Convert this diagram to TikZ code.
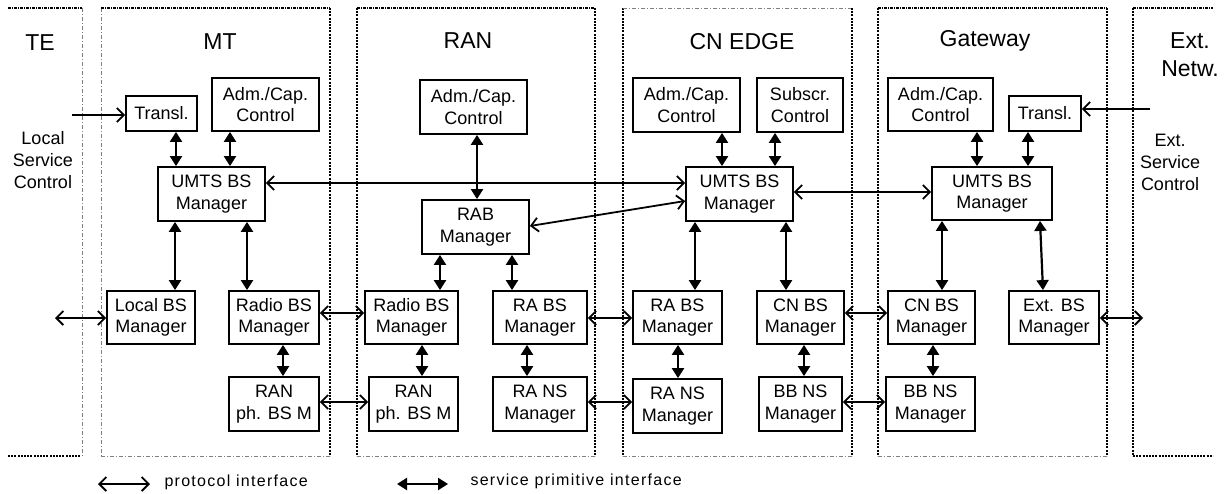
\documentclass[tikz,border=0pt]{standalone}
\usepackage{fontspec}
\setmainfont{Liberation Sans}
\newfontfamily\lgdfont[LetterSpace=8]{Liberation Sans}
\usetikzlibrary{arrows.meta}
\tikzset{
  box/.style={draw, line width=1.8pt, inner sep=0pt, align=center,
    font=\fontsize{18}{21.5}\selectfont},
  title/.style={font=\fontsize{23}{28}\selectfont, align=center},
  side/.style={font=\fontsize{18}{22}\selectfont, align=center},
  lgd/.style={font=\lgdfont\fontsize{16}{19}\selectfont, anchor=west},
  sp/.style={line width=2.2pt, {Triangle[length=10pt,width=12pt]}-{Triangle[length=10pt,width=12pt]}},
  pr/.style={line width=1.8pt, {Straight Barb[length=7pt,width=14pt]}-{Straight Barb[length=7pt,width=14pt]}},
  prone/.style={line width=1.8pt, -{Straight Barb[length=7pt,width=14pt]}},
  thinedge/.style={gray, line width=0.7pt, dash pattern=on 4pt off 2pt on 1pt off 2pt},
  medge/.style={black, line width=1.2pt, dash pattern=on 3pt off 1pt on 1pt off 1pt},
  thickedge/.style={black, line width=2.6pt, dash pattern=on 2pt off 1.2pt},
}
\begin{document}
\begin{tikzpicture}[x=1pt,y=-1pt]
\useasboundingbox (0,0) rectangle (1226,493);
% domain frames
% TE
\draw[medge] (8,8) -- (82,8);
\draw[thinedge] (82,8) -- (82,456);
\draw[thickedge] (8,456) -- (80,456);
% MT
\draw[thinedge] (101,8) -- (101,456);
\draw[medge] (101,8) -- (330,8);
\draw[thickedge] (330,8) -- (330,456);
\draw[thinedge] (101,456) -- (330,456);
% RAN
\draw[thickedge] (357,8) -- (357,456);
\draw[medge] (357,8) -- (595,8);
\draw[thickedge] (595,8) -- (595,456);
\draw[thinedge] (357,456) -- (595,456);
% CN EDGE
\draw[thickedge] (623,8) -- (623,456);
\draw[thinedge] (623,8) -- (852,8);
\draw[thickedge] (852,8) -- (852,456);
\draw[thinedge] (623,456) -- (852,456);
% Gateway
\draw[thickedge] (878,8) -- (878,456);
\draw[medge] (878,8) -- (1107,8);
\draw[thickedge] (1107,8) -- (1107,456);
\draw[thinedge] (878,456) -- (1107,456);
% Ext
\draw[thickedge] (1133,8) -- (1133,456);
\draw[medge] (1133,8) -- (1213,8);
\draw[thickedge] (1133,456) -- (1213,456);

% titles
\node[title] (tTE) at (40,43) {TE};
\node[title] (tMT) at (220,42) {MT};
\node[title] (tRAN) at (468,41) {RAN};
\node[title] (tCN) at (742,42) {CN EDGE};
\node[title] (tGW) at (985,41) {Gateway};
\node[title] (tEXT) at (1190,55) {Ext.\\Netw.};
\node[side] (lsctext) at (43,160) {Local\\Service\\Control};
\node[side] (esctext) at (1170,162) {Ext.\\Service\\Control};

% MT boxes
\node[box, minimum width=71pt, minimum height=35pt] (tr1) at (161.5,113.5) {Transl.};
\node[box, minimum width=107pt, minimum height=53pt] (adm1) at (265.5,104.5) {Adm./Cap.\\Control};
\node[box, minimum width=107pt, minimum height=54pt] (umts1) at (211.5,194) {UMTS BS\\Manager};
\node[box, minimum width=88pt, minimum height=53pt] (lbs) at (151,317.5) {Local BS\\Manager};
\node[box, minimum width=90pt, minimum height=53pt] (rbs1) at (274,317.5) {Radio BS\\Manager};
\node[box, minimum width=90pt, minimum height=54pt] (ranph1) at (274,404) {RAN\\ph. BS M};
% RAN boxes
\node[box, minimum width=107pt, minimum height=54pt] (adm2) at (473.5,107) {Adm./Cap.\\Control};
\node[box, minimum width=107pt, minimum height=54pt] (rab) at (475.5,227) {RAB\\Manager};
\node[box, minimum width=93pt, minimum height=53pt] (rbs2) at (411.5,317.5) {Radio BS\\Manager};
\node[box, minimum width=94pt, minimum height=53pt] (rabs2) at (540,317.5) {RA BS\\Manager};
\node[box, minimum width=89pt, minimum height=54pt] (ranph2) at (413.5,404) {RAN\\ph. BS M};
\node[box, minimum width=94pt, minimum height=54pt] (rans2) at (540,404) {RA NS\\Manager};
% CN EDGE boxes
\node[box, minimum width=107pt, minimum height=54pt] (adm3) at (686.5,105) {Adm./Cap.\\Control};
\node[box, minimum width=86pt, minimum height=54pt] (sub3) at (800,105) {Subscr.\\Control};
\node[box, minimum width=107pt, minimum height=54pt] (umts3) at (739.5,194) {UMTS BS\\Manager};
\node[box, minimum width=89pt, minimum height=53pt] (rabs3) at (677.5,317.5) {RA BS\\Manager};
\node[box, minimum width=87pt, minimum height=53pt] (cnbs3) at (800.5,317.5) {CN BS\\Manager};
\node[box, minimum width=89pt, minimum height=54pt] (rans3) at (677.5,406) {RA NS\\Manager};
\node[box, minimum width=83pt, minimum height=54pt] (bbns3) at (800.5,404) {BB NS\\Manager};
% Gateway boxes
\node[box, minimum width=105pt, minimum height=53pt] (adm4) at (940.5,104.5) {Adm./Cap.\\Control};
\node[box, minimum width=72pt, minimum height=35pt] (tr4) at (1045,113.5) {Transl.};
\node[box, minimum width=120pt, minimum height=53pt] (umts4) at (992,193.5) {UMTS BS\\Manager};
\node[box, minimum width=87pt, minimum height=53pt] (cnbs4) at (931.5,317.5) {CN BS\\Manager};
\node[box, minimum width=90pt, minimum height=53pt] (extbs) at (1054,317.5) {Ext. BS\\Manager};
\node[box, minimum width=89pt, minimum height=54pt] (bbns4) at (930.5,404) {BB NS\\Manager};

% service primitive interfaces
\draw[sp] (tr1.south -| 176,0) -- (umts1.north -| 176,0);
\draw[sp] (adm1.south -| 230,0) -- (umts1.north -| 230,0);
\draw[sp] (umts1.south -| 175,0) -- (lbs.north -| 175,0);
\draw[sp] (umts1.south -| 247,0) -- (rbs1.north -| 247,0);
\draw[sp] (rbs1.south -| 283,0) -- (ranph1.north -| 283,0);
\draw[sp] (adm2.south -| 477,0) -- (rab.north -| 477,0);
\draw[sp] (rab.south -| 440,0) -- (rbs2.north -| 440,0);
\draw[sp] (rab.south -| 512,0) -- (rabs2.north -| 512,0);
\draw[sp] (rbs2.south -| 422,0) -- (ranph2.north -| 422,0);
\draw[sp] (rabs2.south -| 527,0) -- (rans2.north -| 527,0);
\draw[sp] (adm3.south -| 722,0) -- (umts3.north -| 722,0);
\draw[sp] (sub3.south -| 775,0) -- (umts3.north -| 775,0);
\draw[sp] (umts3.south -| 695,0) -- (rabs3.north -| 695,0);
\draw[sp] (umts3.south -| 786,0) -- (cnbs3.north -| 786,0);
\draw[sp] (rabs3.south -| 678,0) -- (rans3.north -| 678,0);
\draw[sp] (cnbs3.south -| 804,0) -- (bbns3.north -| 804,0);
\draw[sp] (adm4.south -| 977,0) -- (umts4.north -| 977,0);
\draw[sp] (tr4.south -| 1028,0) -- (umts4.north -| 1028,0);
\draw[sp] (umts4.south -| 942,0) -- (cnbs4.north -| 942,0);
\draw[sp] (umts4.south -| 1040,0) -- (extbs.north -| 1043,0);
\draw[sp] (cnbs4.south -| 933,0) -- (bbns4.north -| 933,0);

% protocol interfaces
\coordinate (lsc) at (72,115);
\draw[prone] (lsc) -- (tr1.west |- lsc);
\coordinate (esc) at (1150,109);
\draw[prone] (esc) -- (tr4.east |- esc);
\draw[pr] (umts1.east |- 0,183) -- (umts3.west |- 0,183);
\draw[pr] (rab.east |- 0,226) -- (umts3.west |- 0,201);
\draw[pr] (umts3.east |- 0,192) -- (umts4.west |- 0,192);
\coordinate (lbl) at (55,318);
\draw[pr] (lbl) -- (lbs.west |- lbl);
\draw[pr] (rbs1.east |- 0,313) -- (rbs2.west |- 0,313);
\draw[pr] (ranph1.east |- 0,402) -- (ranph2.west |- 0,402);
\draw[pr] (rabs2.east |- 0,318) -- (rabs3.west |- 0,318);
\draw[pr] (rans2.east |- 0,402) -- (rans3.west |- 0,402);
\draw[pr] (cnbs3.east |- 0,313) -- (cnbs4.west |- 0,313);
\draw[pr] (bbns3.east |- 0,402) -- (bbns4.west |- 0,402);
\coordinate (ebr) at (1143,318);
\draw[pr] (extbs.east |- ebr) -- (ebr);

% legend
\coordinate (pa) at (98,484);
\coordinate (pb) at (150,484);
\draw[pr] (pa) -- (pb);
\node[lgd] (ptext) at (161,482) {protocol interface};
\coordinate (sa) at (397,484);
\coordinate (sb) at (448,484);
\draw[sp] (sa) -- (sb);
\node[lgd] (stext) at (467,481) {service primitive interface};
\end{tikzpicture}
\end{document}
